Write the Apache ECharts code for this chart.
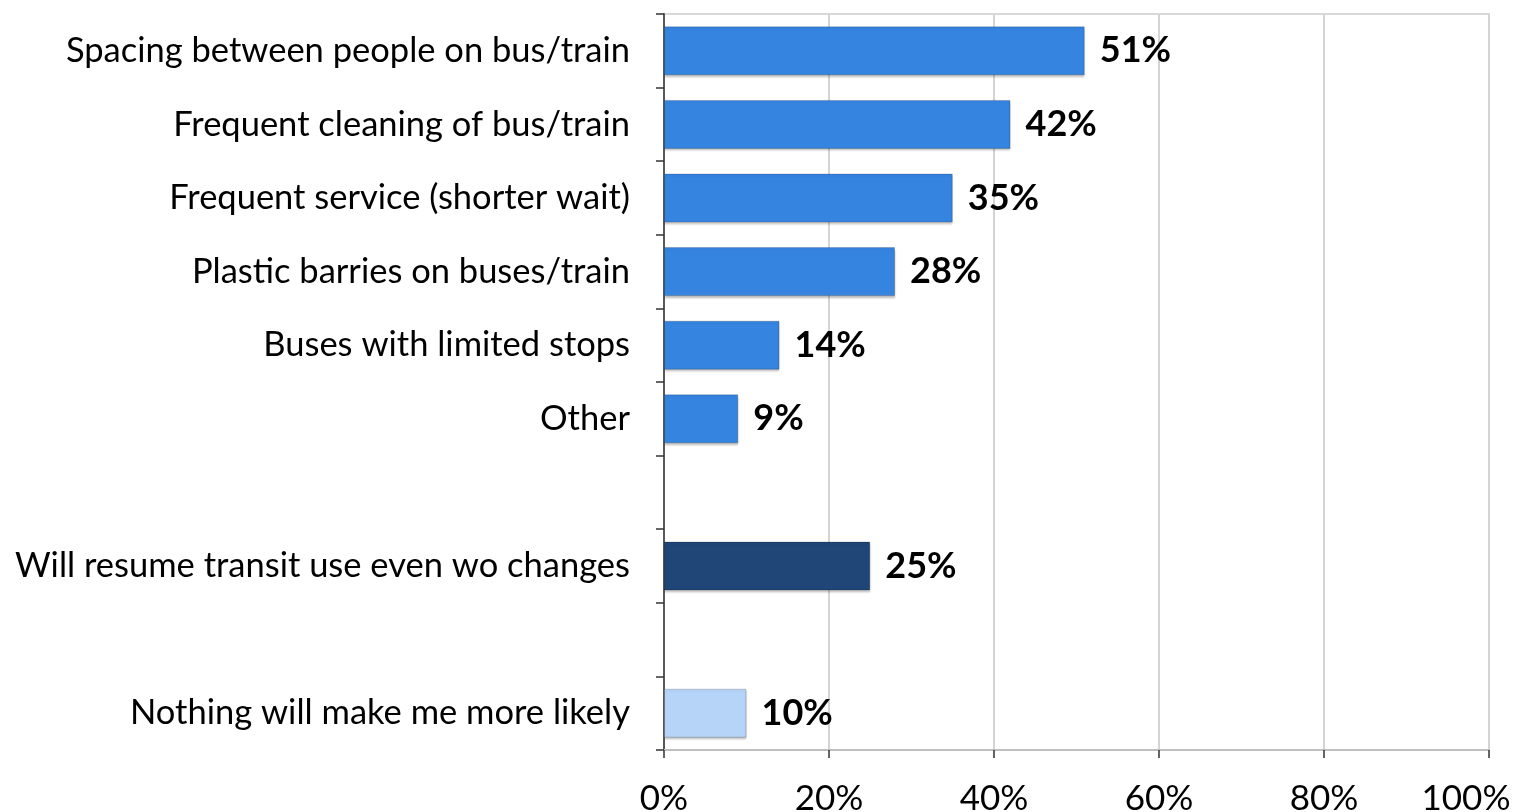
<!DOCTYPE html>
<html>
<head>
<meta charset="utf-8">
<script src="https://cdn.jsdelivr.net/npm/echarts@6/dist/echarts.min.js"></script>
<style>
html,body{margin:0;padding:0;background:#fff;}
#chart{width:1533px;height:812px;}
</style>
</head>
<body>
<div id="chart"></div>
<script>
const categories = [
  'Spacing between people on bus/train',
  'Frequent cleaning of bus/train',
  'Frequent service (shorter wait)',
  'Plastic barries on buses/train',
  'Buses with limited stops',
  'Other',
  '',
  'Will resume transit use even wo changes',
  ' ',
  'Nothing will make me more likely'
];
const values = [51, 42, 35, 28, 14, 9, null, 25, null, 10];
const groups = ['change','change','change','change','change','change',null,'resume',null,'nothing'];
const xTicks = [0, 20, 40, 60, 80, 100];

const groupColors = {change: '#3584E0', resume: '#1F4677', nothing: '#B5D4F7'};
const FONT = 'Lato, "Open Sans", sans-serif';

const chart = echarts.init(document.getElementById('chart'));
chart.setOption({
  animation: false,
  backgroundColor: '#fff',
  grid: {
    left: 664, right: 44, top: 14, bottom: 62,
    outerBoundsMode: 'none',
    show: true, borderColor: '#d9d9d9', borderWidth: 2
  },
  xAxis: {
    type: 'value',
    min: xTicks[0], max: xTicks[xTicks.length - 1], interval: 20,
    axisLine: {show: true, lineStyle: {color: '#bfbfbf', width: 2}},
    axisTick: {show: true, length: 8, lineStyle: {color: '#333', width: 1.5}},
    splitLine: {show: true, lineStyle: {color: '#d4d4d4', width: 2}},
    axisLabel: {
      formatter: v => v === xTicks[xTicks.length - 1] ? '{last|' + v + '%}' : v + '%',
      color: '#000', fontSize: 35, fontFamily: FONT, margin: 31,
      rich: {
        last: {color: '#000', fontSize: 35, fontFamily: FONT, padding: [0, 46, 0, 0]}
      }
    }
  },
  yAxis: {
    type: 'category',
    inverse: true,
    data: categories,
    axisLine: {show: true, lineStyle: {color: '#595959', width: 2}},
    axisTick: {show: true, length: 8, lineStyle: {color: '#333', width: 1.5}},
    axisLabel: {color: '#000', fontSize: 34.5, fontFamily: FONT, margin: 34}
  },
  series: [{
    type: 'bar',
    data: values.map((v, i) => ({
      value: v,
      itemStyle: {color: groups[i] ? groupColors[groups[i]] : '#3584E0'}
    })),
    barWidth: 49,
    itemStyle: {
      borderColor: 'rgba(0,0,0,0.18)', borderWidth: 1,
      shadowColor: 'rgba(0,0,0,0.25)', shadowOffsetY: 2, shadowBlur: 2
    },
    label: {
      show: true, position: 'right', distance: 15,
      formatter: p => p.value == null ? '' : p.value + '%',
      color: '#000', fontWeight: 'bold', fontSize: 36, fontFamily: FONT
    }
  }]
});
</script>
</body>
</html>
